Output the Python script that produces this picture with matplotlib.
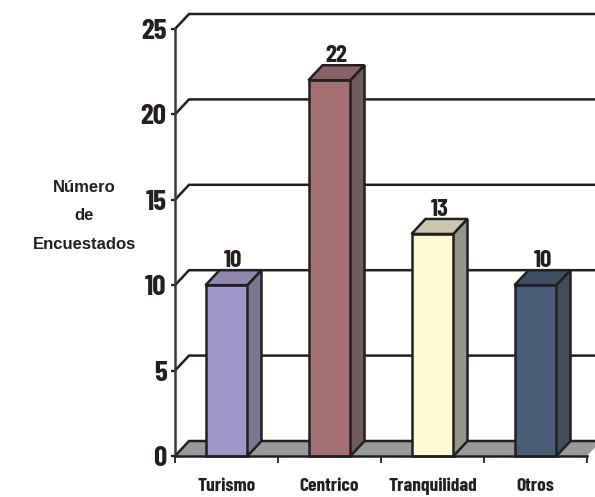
import matplotlib
matplotlib.use("Agg")
import matplotlib.pyplot as plt
from matplotlib.patches import Polygon

categories = ["Turismo", "Centrico", "Tranquilidad", "Otros"]
values = [10, 22, 13, 10]
y_ticks = [0, 5, 10, 15, 20, 25]
front_colors = ["#9F97C9", "#A57074", "#FFFAD4", "#4A5D78"]
top_colors = ["#8F88AD", "#886266", "#C8C8B2", "#3F4F66"]
side_colors = ["#7A7794", "#6E5C5C", "#959588", "#444B59"]
ylabel_lines = "Número\nde\nEncuestados"

W, H = 595, 497
DARK = "#231F20"
NARROW = ["Barlow Condensed", "Liberation Sans", "DejaVu Sans"]

fig = plt.figure(figsize=(W / 100, H / 100), dpi=100, facecolor="white")
L, R, T, B = 175, 587, 29, 456
ax = fig.add_axes([L / W, 1 - B / H, (R - L) / W, (B - T) / H])
ax.set_xlim(0, 4)
ax.set_ylim(0, 25)
ax.patch.set_alpha(0)

dx = 14 / ((R - L) / 4)
dy = 15 / ((B - T) / 25)
bar_w = 42 / ((R - L) / 4)
xmax_back = 4 + dx
LW = 1.8

ax.add_patch(Polygon([(0, 0), (dx, dy), (xmax_back, dy), (4, 0)], closed=True,
                     facecolor="#98999B", edgecolor="none", clip_on=False, zorder=1))
for v in y_ticks:
    ax.plot([0, dx, xmax_back], [v, v + dy, v + dy], color=DARK, lw=LW,
            clip_on=False, zorder=1.5, solid_joinstyle="miter")

for i, v in enumerate(values):
    c = i + 0.5
    x0, x1 = c - bar_w / 2, c + bar_w / 2
    ax.bar(c, v, width=bar_w, color=front_colors[i], edgecolor=DARK, linewidth=LW,
           zorder=3, clip_on=False)
    ax.add_patch(Polygon([(x0, v), (x0 + dx, v + dy), (x1 + dx, v + dy), (x1, v)],
                         closed=True, facecolor=top_colors[i], edgecolor=DARK, lw=LW,
                         clip_on=False, zorder=3, joinstyle="miter"))
    ax.add_patch(Polygon([(x1, 0), (x1 + dx, dy), (x1 + dx, v + dy), (x1, v)],
                         closed=True, facecolor=side_colors[i], edgecolor=DARK, lw=LW,
                         clip_on=False, zorder=3, joinstyle="miter"))
    ax.annotate(str(v), (c + dx / 2, v + dy), xytext=(0, -1.5), textcoords="offset points",
                ha="center", va="bottom", family=NARROW, fontweight="bold", fontsize=18,
                color=DARK, zorder=4, annotation_clip=False)

for s in ("top", "right"):
    ax.spines[s].set_visible(False)
for s in ("left", "bottom"):
    ax.spines[s].set_linewidth(LW)
    ax.spines[s].set_color(DARK)
    ax.spines[s].set_zorder(5)
ax.spines["left"].set_color("#3a3738")

ax.set_yticks(y_ticks)
ax.set_yticklabels([str(v) for v in y_ticks], family=NARROW, fontweight="bold",
                   fontsize=21, color=DARK)
ax.tick_params(axis="y", length=3, width=1.6, color=DARK, pad=3)
ax.set_xticks([0, 1, 2, 3, 4])
ax.set_xticklabels([])
ax.tick_params(axis="x", which="major", length=5, width=1.3, color=DARK)
ax.set_xticks([0.5, 1.5, 2.5, 3.5], minor=True)
ax.set_xticklabels(categories, minor=True, family=NARROW, fontweight="bold",
                   fontsize=14, color=DARK, va="baseline")
ax.tick_params(axis="x", which="minor", length=0, pad=25)

fig.text(84 / W, 1 - 216 / H, ylabel_lines, ha="center", va="center", family="Liberation Sans",
         fontweight="bold", fontsize=12, color=DARK, linespacing=2.1)

fig.savefig("out.png", dpi=100)
